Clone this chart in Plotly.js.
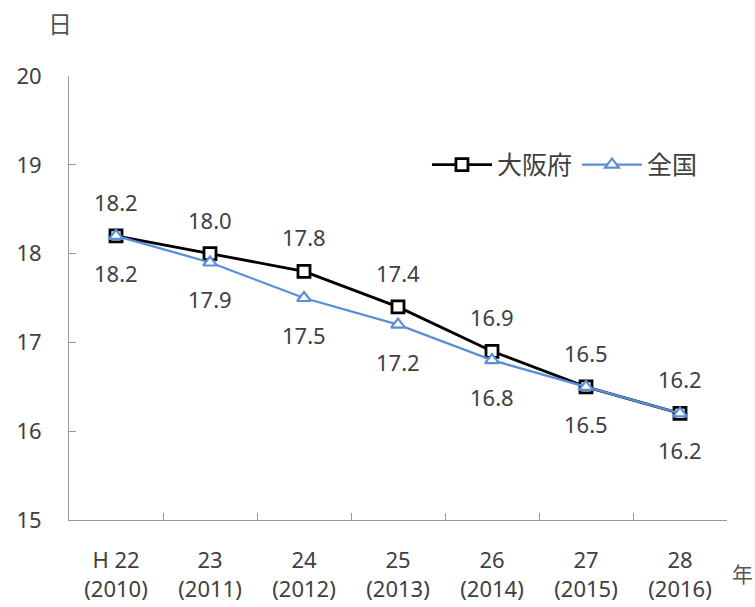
<!DOCTYPE html>
<html>
<head>
<meta charset="utf-8">
<script src="https://cdn.plot.ly/plotly-3.0.1.min.js"></script>
<style>html,body{margin:0;padding:0;background:#fff;}#chart{width:755px;height:607px;}</style>
</head>
<body>
<div id="chart"></div>
<script>
var categories = ["H 22<br>(2010)", "23<br>(2011)", "24<br>(2012)", "25<br>(2013)", "26<br>(2014)", "27<br>(2015)", "28<br>(2016)"];
var osakaValues = [18.2, 18.0, 17.8, 17.4, 16.9, 16.5, 16.2];
var zenkokuValues = [18.2, 17.9, 17.5, 17.2, 16.8, 16.5, 16.2];
var seriesNames = ["大阪府", "全国"];
var yTicks = [15, 16, 17, 18, 19, 20];

var FONT = "Noto Sans, Noto Sans CJK JP, sans-serif";
var TXT = "#404040";
var FS = 22;

var traces = [
  {
    x: categories, y: osakaValues, name: seriesNames[0], type: "scatter", mode: "lines+markers",
    line: {color: "#000000", width: 2.8},
    marker: {symbol: "square", size: 12, color: "#ffffff", line: {color: "#000000", width: 2.8}}
  },
  {
    x: categories, y: zenkokuValues, name: seriesNames[1], type: "scatter", mode: "lines+markers",
    line: {color: "#5a8fd8", width: 2.3},
    marker: {symbol: "triangle-up", size: 12, color: "#ffffff", line: {color: "#5a8fd8", width: 2.2}}
  }
];

var annotations = [];
osakaValues.forEach(function (v, i) {
  annotations.push({x: categories[i], y: v, xref: "x", yref: "y", text: v.toFixed(1), showarrow: false,
    yshift: 34, font: {family: FONT, size: FS, color: TXT}});
});
zenkokuValues.forEach(function (v, i) {
  annotations.push({x: categories[i], y: v, xref: "x", yref: "y", text: v.toFixed(1), showarrow: false,
    yshift: -37, font: {family: FONT, size: FS, color: TXT}});
});
annotations.push({text: "日", xref: "paper", yref: "paper", x: (60 - 69) / 658, y: (520 - 23) / 444,
  xanchor: "center", yanchor: "middle", showarrow: false, font: {family: FONT, size: 24, color: "#555555"}});
annotations.push({text: "年", xref: "paper", yref: "paper", x: (742 - 69) / 658, y: (520 - 574) / 444,
  showarrow: false, xanchor: "center", yanchor: "middle", font: {family: FONT, size: 21, color: "#555555"}});

var layout = {
  width: 755, height: 607,
  margin: {l: 69, r: 28, t: 76, b: 87},
  paper_bgcolor: "#ffffff", plot_bgcolor: "#ffffff",
  showlegend: true,
  legend: {orientation: "h", x: 0.544, y: 0.80, xanchor: "left", yanchor: "middle",
    font: {family: FONT, size: 25, color: TXT}, itemwidth: 60, tracegroupgap: 0, bgcolor: "rgba(0,0,0,0)"},
  xaxis: {
    type: "category", range: [-0.5, 6.5], tickson: "boundaries",
    ticks: "inside", ticklen: 7, tickcolor: "#999999", showline: true, linecolor: "#999999", linewidth: 1,
    showgrid: false, zeroline: false, fixedrange: true,
    tickfont: {family: FONT, size: FS, color: TXT}, ticklabelstandoff: 21
  },
  yaxis: {
    range: [15, 20], tickvals: yTicks, ticktext: yTicks.map(String),
    ticks: "inside", ticklen: 7, tickcolor: "#999999", showline: true, linecolor: "#999999", linewidth: 1,
    showgrid: false, zeroline: false, fixedrange: true,
    tickfont: {family: FONT, size: FS, color: TXT}, ticklabelstandoff: 22
  },
  annotations: annotations
};

Plotly.newPlot("chart", traces, layout, {displayModeBar: false, staticPlot: true});
</script>
</body>
</html>
